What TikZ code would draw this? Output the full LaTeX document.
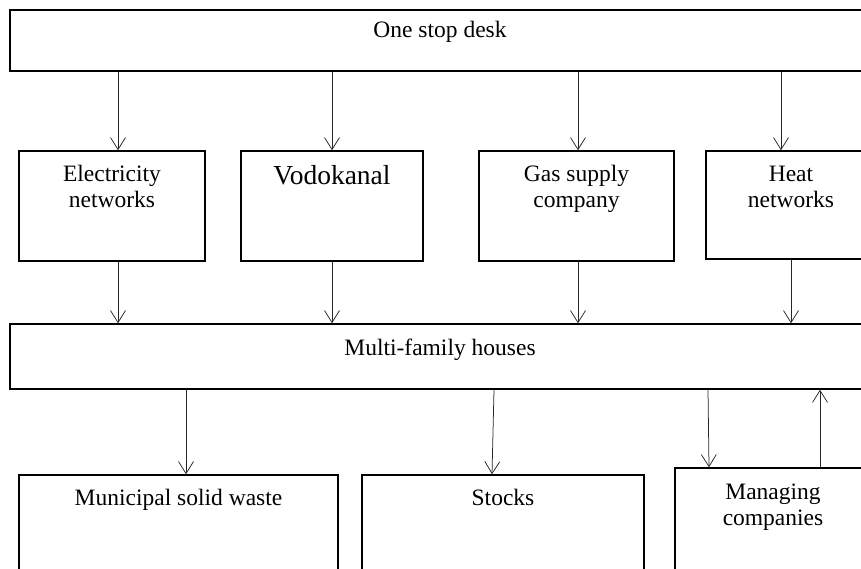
\documentclass[tikz,border=0pt]{standalone}
\usepackage{fontspec}
\setmainfont{Liberation Serif}
\usetikzlibrary{arrows.meta,positioning}

\begin{document}
\begin{tikzpicture}[x=1pt,y=-1pt,
    box/.style={draw,line width=1.5pt,inner sep=0pt},
    lbl/.style={anchor=base,align=center,font=\fontsize{23.5}{26}\selectfont},
    arr/.style={-{Straight Barb[length=12pt,width=15pt]},line width=0.75pt,black!85}]
        \useasboundingbox (0,0) rectangle (861,569);
        \clip (0,0) rectangle (861,569);
        % top level
        \node[box,minimum width=860pt,minimum height=61pt] (desk) at (440,40.5) {};
        \node[lbl] (deskT) at (desk.north) [yshift=-28pt] {One stop desk};
        % utilities (two-line labels: base is the last line)
        \node[box,minimum width=186pt,minimum height=110pt] (elec) at (112,206) {};
        \node[lbl] (elecT) at (elec.north) [yshift=-57pt] {Electricity\\networks};
        \node[box,minimum width=182pt,minimum height=110pt] (vodo) at (332,206) {};
        \node[lbl,font=\fontsize{27.5}{30}\selectfont] (vodoT) at (vodo.north) [yshift=-34pt] {Vodokanal};
        \node[box,minimum width=195pt,minimum height=110pt] (gas) at (576.5,206) {};
        \node[lbl] (gasT) at (gas.north) [yshift=-57pt] {Gas supply\\company};
        \node[box,minimum width=170pt,minimum height=108pt] (heat) at (791,205) {};
        \node[lbl] (heatT) at (heat.north) [yshift=-57pt] {Heat\\networks};
        % houses
        \node[box,minimum width=860pt,minimum height=65pt] (mfh) at (440,356.5) {};
        \node[lbl] (mfhT) at (mfh.north) [yshift=-32pt] {Multi-family houses};
        % bottom row
        \node[box,minimum width=319pt,minimum height=125pt] (msw) at (178.5,537.5) {};
        \node[lbl] (mswT) at (msw.north) [yshift=-31pt] {Municipal solid waste};
        \node[box,minimum width=282pt,minimum height=125pt] (stock) at (503,537.5) {};
        \node[lbl] (stockT) at (stock.north) [yshift=-31pt] {Stocks};
        \node[box,minimum width=196pt,minimum height=132pt] (mgmt) at (773,534) {};
        \node[lbl] (mgmtT) at (mgmt.north) [yshift=-58pt] {Managing\\companies};
        % arrows
        \draw[arr] ([xshift=6pt]elec.north |- desk.south) -- ([xshift=6pt]elec.north);
        \draw[arr] (vodo.north |- desk.south) -- (vodo.north);
        \draw[arr] ([xshift=1.5pt]gas.north |- desk.south) -- ([xshift=1.5pt]gas.north);
        \draw[arr] ([xshift=-10pt]heat.north |- desk.south) -- ([xshift=-10pt]heat.north);
        \draw[arr] ([xshift=6pt]elec.south) -- ([xshift=6pt]elec.south |- mfh.north);
        \draw[arr] (vodo.south) -- (vodo.south |- mfh.north);
        \draw[arr] ([xshift=1.5pt]gas.south) -- ([xshift=1.5pt]gas.south |- mfh.north);
        \draw[arr] (heat.south) -- (heat.south |- mfh.north);
        \draw[arr] ([xshift=7.5pt]msw.north |- mfh.south) -- ([xshift=7.5pt]msw.north);
        \draw[arr] ([xshift=-9pt]stock.north |- mfh.south) -- ([xshift=-11pt]stock.north);
        \draw[arr] ([xshift=-65pt]mgmt.north |- mfh.south) -- ([xshift=-64pt]mgmt.north);
        \draw[arr] ([xshift=47pt]mgmt.north) -- ([xshift=47pt]mgmt.north |- mfh.south);
\end{tikzpicture}
\end{document}
